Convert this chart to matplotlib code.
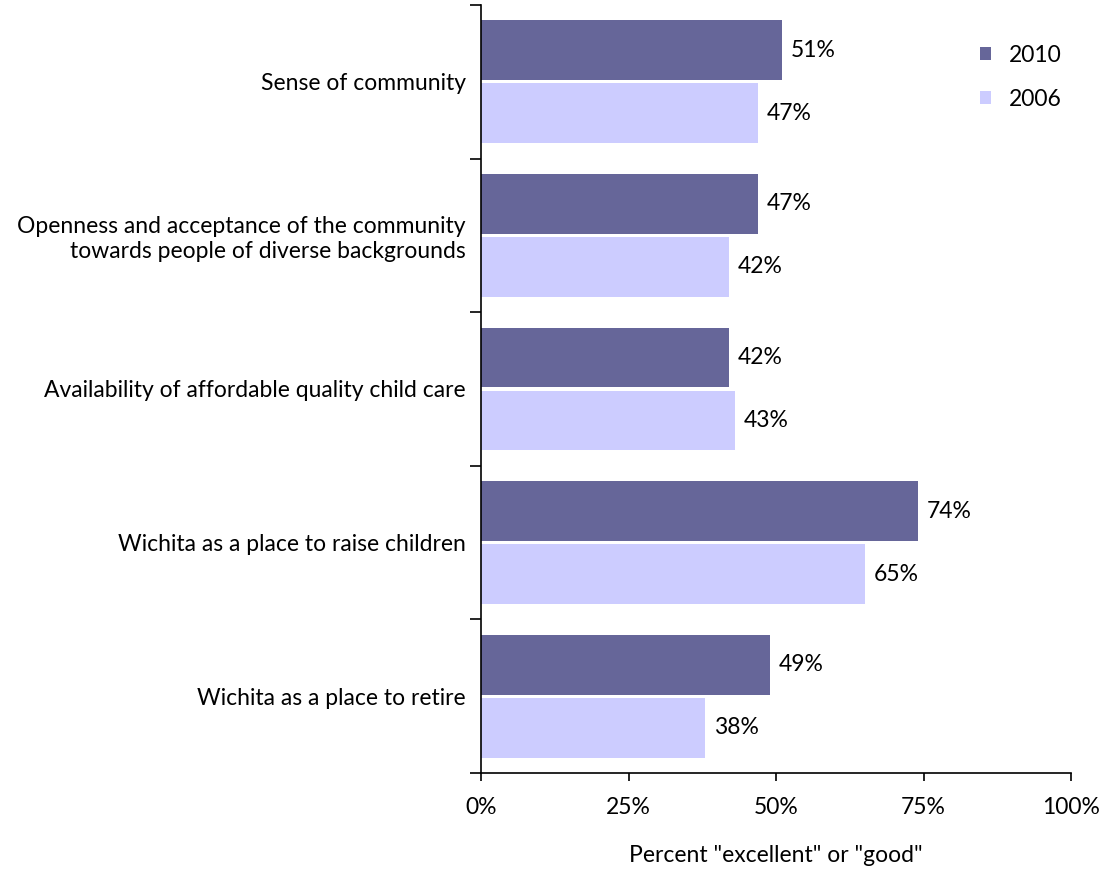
import matplotlib
matplotlib.use("Agg")
import matplotlib.pyplot as plt
import numpy as np

plt.rcParams['font.family'] = ['Lato', 'DejaVu Sans']

# survey items, top to bottom
categories = ['Sense of community',
              'Openness and acceptance of the community\ntowards people of diverse backgrounds',
              'Availability of affordable quality child care',
              'Wichita as a place to raise children',
              'Wichita as a place to retire']
vals_2010 = [51, 47, 42, 74, 49]
vals_2006 = [47, 42, 43, 65, 38]
xticks = [0, 25, 50, 75, 100]

col_2010 = '#666699'
col_2006 = '#ccccff'
fs = 16.5

fig = plt.figure(figsize=(11, 8.71), dpi=100)
ax = fig.add_axes([0.4373, 0.1125, 0.5364, 0.8818])

y = np.arange(len(categories))
h = 0.39
b1 = ax.barh(y - 0.205, vals_2010, height=h, color=col_2010, label='2010')
b2 = ax.barh(y + 0.205, vals_2006, height=h, color=col_2006, label='2006')

for bars, vals in ((b1, vals_2010), (b2, vals_2006)):
    for b, v in zip(bars, vals):
        ax.text(v + 1.5, b.get_y() + b.get_height() / 2, f'{v}%',
                va='center', ha='left', fontsize=fs)

ax.set_ylim(len(categories) - 0.5, -0.5)
ax.set_xlim(0, 100)

# category labels centred, ticks at group boundaries
ax.set_yticks(np.arange(len(categories) + 1) - 0.5)
ax.set_yticklabels([])
ax.set_yticks(y, minor=True)
ax.set_yticklabels(categories, minor=True, fontsize=fs, ha='right', multialignment='right')
ax.tick_params(axis='y', which='minor', length=0, pad=11)
ax.tick_params(axis='y', which='major', direction='out', length=8, width=1.2)

ax.set_xticks(xticks)
ax.set_xticklabels([f'{t}%' for t in xticks], fontsize=fs)
ax.tick_params(axis='x', direction='out', length=6, width=1.2, pad=11)
ax.set_xlabel('Percent "excellent" or "good"', fontsize=fs, labelpad=20)

for s in ('top', 'right'):
    ax.spines[s].set_visible(False)
for s in ('left', 'bottom'):
    ax.spines[s].set_linewidth(1.2)

ax.legend(loc='upper right', bbox_to_anchor=(1.02, 0.975), frameon=False,
          fontsize=fs, handlelength=0.5, handleheight=0.5, handletextpad=0.8,
          labelspacing=1.0)

fig.savefig('out.png', dpi=100)
